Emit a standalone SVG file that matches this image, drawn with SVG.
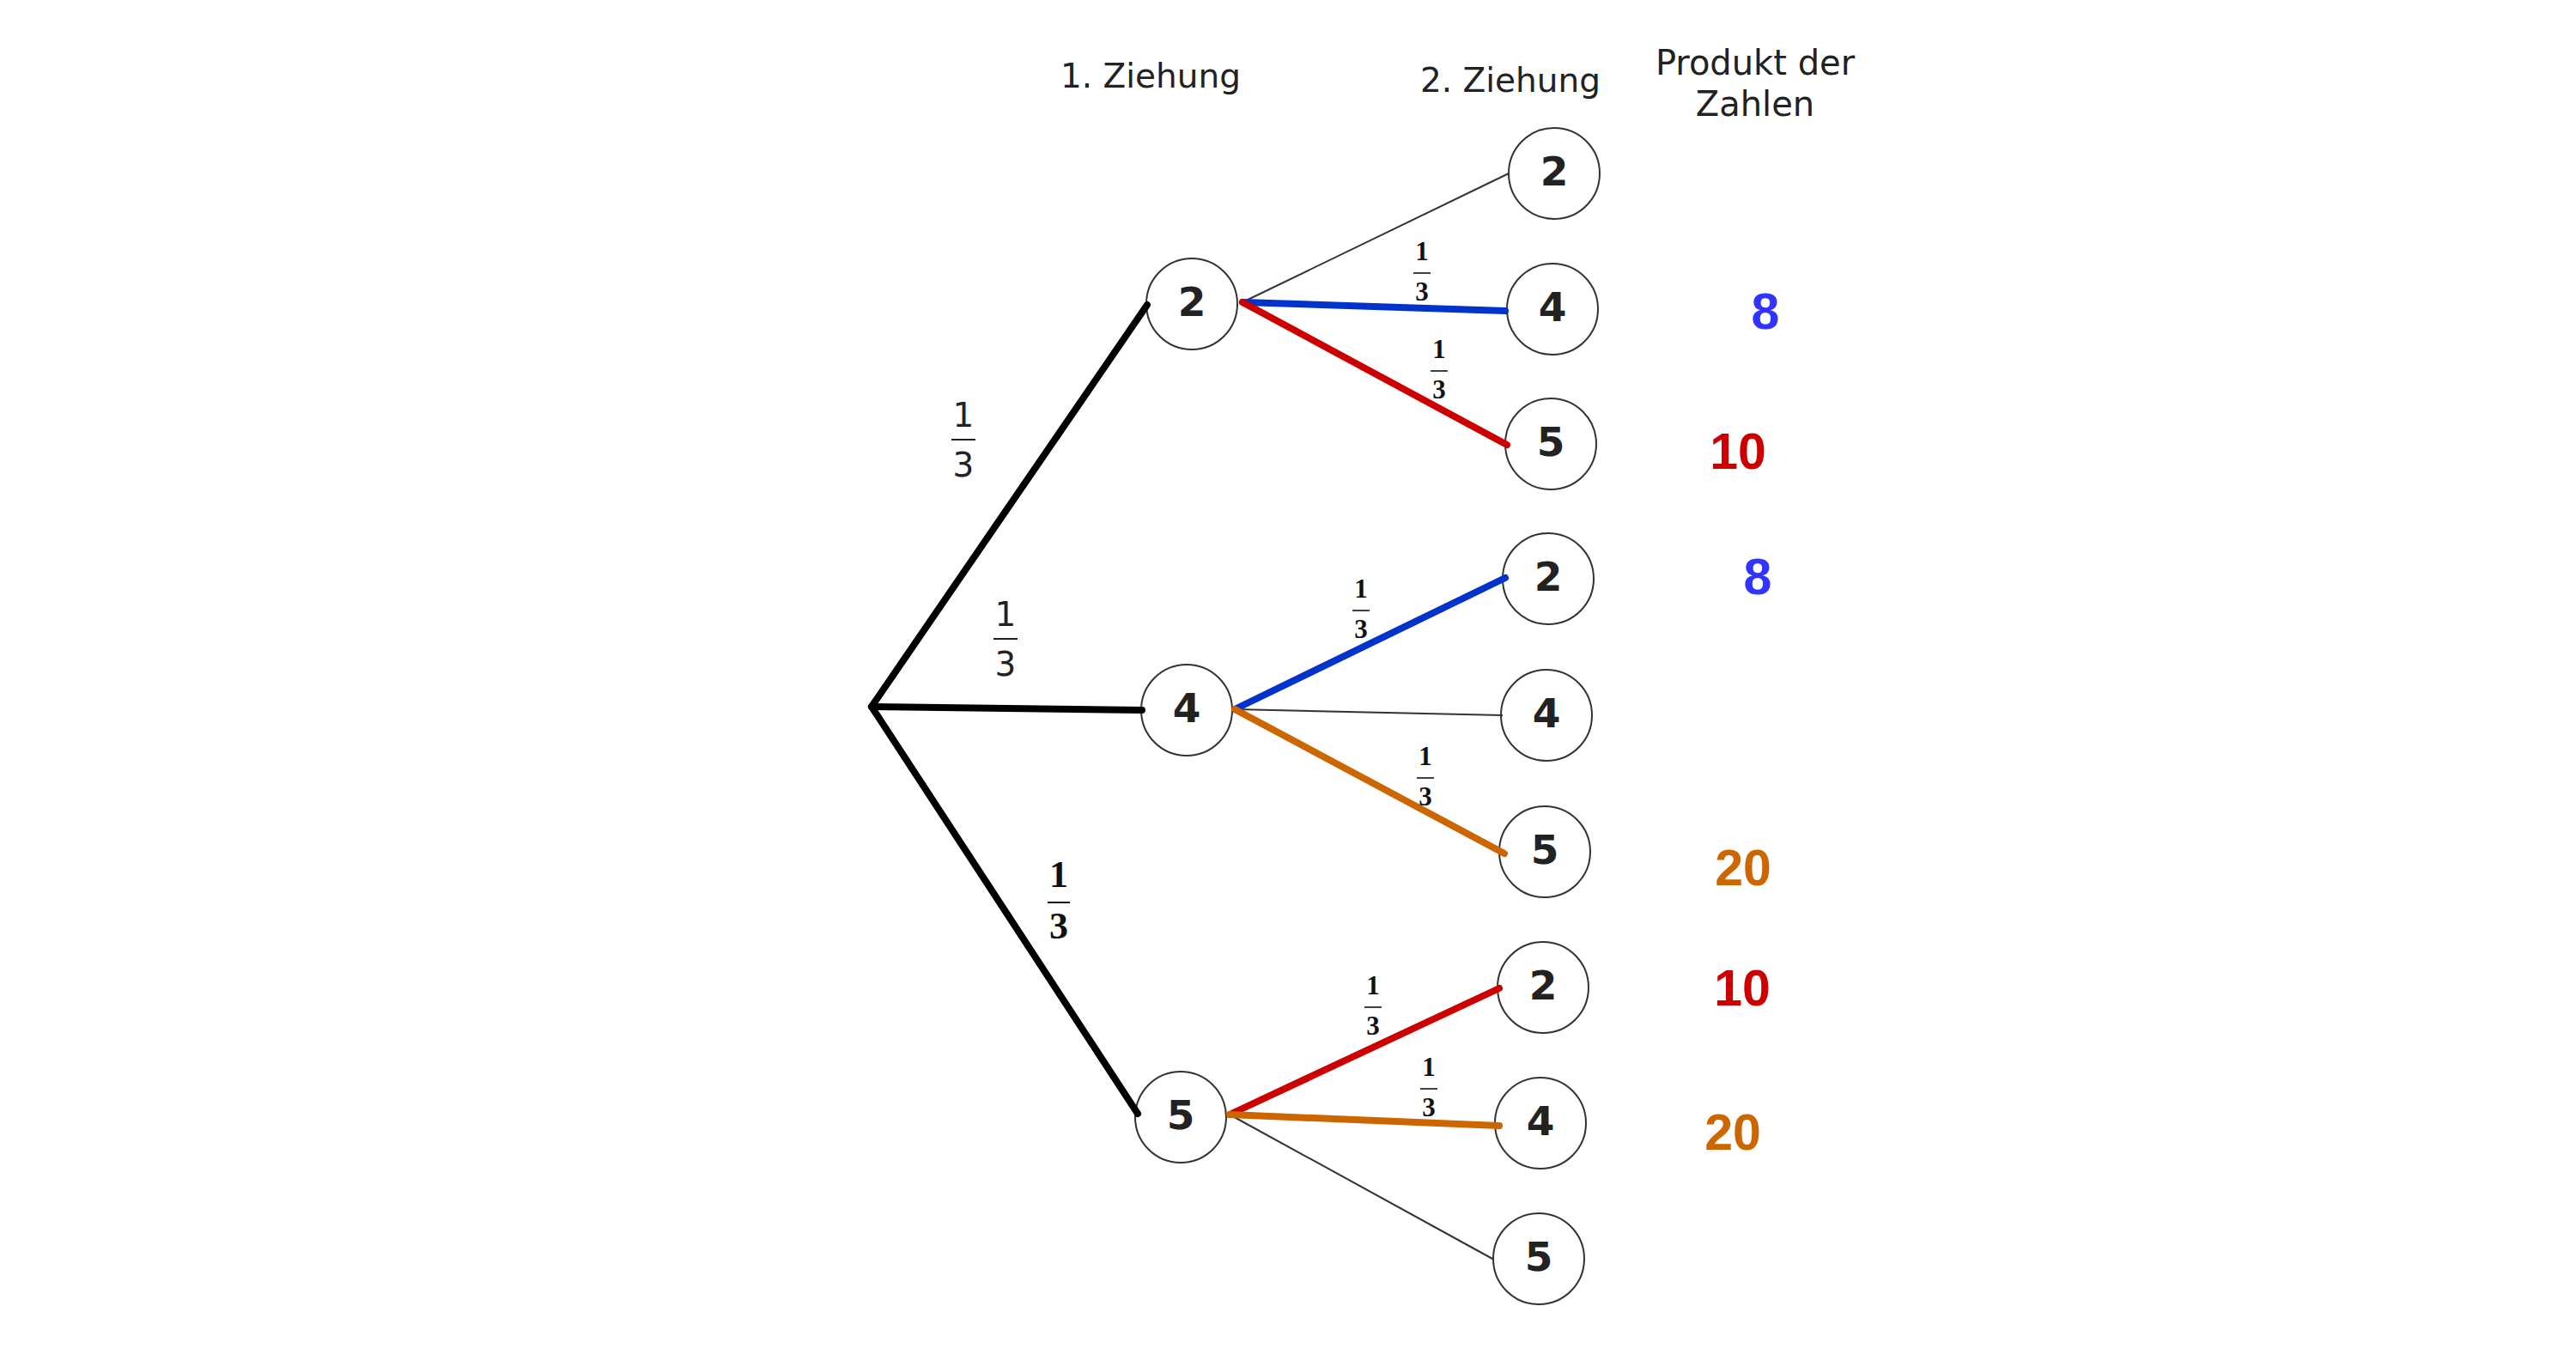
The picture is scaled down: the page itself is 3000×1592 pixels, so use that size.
<svg xmlns="http://www.w3.org/2000/svg" width="3000" height="1592" viewBox="0 0 3000 1592">
<style>
.node circle{fill:#fff;stroke:#333;stroke-width:2}
.node text{font-family:"DejaVu Sans",Verdana,sans-serif;font-weight:bold;font-size:47px;fill:#222;text-anchor:middle}
.hdr{font-family:"DejaVu Sans",Verdana,sans-serif;font-size:39px;fill:#222;text-anchor:middle}
.thick{stroke-width:8;stroke-linecap:round;fill:none}
.thin{stroke:#333;stroke-width:2;fill:none}
.k{stroke:#000}
.b{stroke:#0033CC}
.r{stroke:#CC0000}
.o{stroke:#CC6600}
.fs text{font-family:"Liberation Serif","Times New Roman",serif;font-weight:bold;font-size:31px;fill:#111;text-anchor:middle}
.fs line{stroke:#111;stroke-width:1.6}
.fl text{font-family:"DejaVu Sans",Verdana,sans-serif;font-size:39px;fill:#222;text-anchor:middle}
.fl line{stroke:#222;stroke-width:2}
.fb text{font-family:"Liberation Serif","Times New Roman",serif;font-weight:bold;font-size:44px;fill:#111;text-anchor:middle}
.fb line{stroke:#111;stroke-width:2}
.prod{font-family:"Liberation Sans",Arial,sans-serif;font-weight:bold;font-size:59px;text-anchor:middle}
</style>
<rect width="3000" height="1592" fill="#fff"/>

<g id="headers">
<text class="hdr" x="1340" y="102">1. Ziehung</text>
<text class="hdr" x="1759" y="107">2. Ziehung</text>
<text class="hdr" x="2044" y="87" style="font-size:40px">Produkt der</text>
<text class="hdr" x="2044" y="135" style="font-size:40px">Zahlen</text>
</g>

<g id="n1_2" class="node"><circle cx="1388" cy="354" r="53"/></g>
<g id="n1_4" class="node"><circle cx="1382" cy="827" r="53"/></g>
<g id="n1_5" class="node"><circle cx="1375" cy="1301" r="53"/></g>
<g id="n2_2a" class="node"><circle cx="1810" cy="202" r="53"/></g>
<g id="n2_4a" class="node"><circle cx="1808" cy="360" r="53"/></g>
<g id="n2_5a" class="node"><circle cx="1806" cy="517" r="53"/></g>
<g id="n2_2b" class="node"><circle cx="1803" cy="674" r="53"/></g>
<g id="n2_4b" class="node"><circle cx="1801" cy="833" r="53"/></g>
<g id="n2_5b" class="node"><circle cx="1799" cy="992" r="53"/></g>
<g id="n2_2c" class="node"><circle cx="1797" cy="1150" r="53"/></g>
<g id="n2_4c" class="node"><circle cx="1794" cy="1308" r="53"/></g>
<g id="n2_5c" class="node"><circle cx="1792" cy="1466" r="53"/></g>

<g id="connectors">
<line class="thick k" x1="1015" y1="823" x2="1336" y2="355"/>
<line class="thick k" x1="1015" y1="823" x2="1330" y2="827"/>
<line class="thick k" x1="1015" y1="823" x2="1325" y2="1297"/>

<line class="thin" x1="1447" y1="352" x2="1757" y2="202"/>
<line class="thick b" x1="1447" y1="352" x2="1753" y2="362"/>
<line class="thick r" x1="1447" y1="352" x2="1755" y2="518"/>

<line class="thin" x1="1438" y1="826" x2="1750" y2="833"/>
<line class="thick b" x1="1438" y1="826" x2="1753" y2="673"/>
<line class="thick o" x1="1438" y1="826" x2="1752" y2="994"/>

<line class="thin" x1="1432" y1="1298" x2="1740" y2="1467"/>
<line class="thick r" x1="1432" y1="1298" x2="1746" y2="1151"/>
<line class="thick o" x1="1432" y1="1298" x2="1746" y2="1311"/>
</g>

<g id="node-labels" class="node">
<text x="1388" y="368">2</text>
<text x="1382" y="841">4</text>
<text x="1375" y="1315">5</text>
<text x="1810" y="216">2</text>
<text x="1808" y="374">4</text>
<text x="1806" y="531">5</text>
<text x="1803" y="688">2</text>
<text x="1801" y="847">4</text>
<text x="1799" y="1006">5</text>
<text x="1797" y="1164">2</text>
<text x="1794" y="1322">4</text>
<text x="1792" y="1480">5</text>
</g>

<g id="edge-labels">
<g class="fl" transform="translate(1122,512)"><text x="0" y="-15">1</text><line x1="-14" y1="0" x2="14" y2="0"/><text x="0" y="43">3</text></g>
<g class="fl" transform="translate(1171,744)"><text x="0" y="-15">1</text><line x1="-14" y1="0" x2="14" y2="0"/><text x="0" y="43">3</text></g>
<g class="fb" transform="translate(1233,1051)"><text x="0" y="-18">1</text><line x1="-13" y1="0" x2="13" y2="0"/><text x="0" y="42">3</text></g>

<g class="fs" transform="translate(1656,318)"><text x="0" y="-15">1</text><line x1="-10" y1="0" x2="10" y2="0"/><text x="0" y="32">3</text></g>
<g class="fs" transform="translate(1676,432)"><text x="0" y="-15">1</text><line x1="-10" y1="0" x2="10" y2="0"/><text x="0" y="32">3</text></g>
<g class="fs" transform="translate(1585,711)"><text x="0" y="-15">1</text><line x1="-10" y1="0" x2="10" y2="0"/><text x="0" y="32">3</text></g>
<g class="fs" transform="translate(1660,906)"><text x="0" y="-15">1</text><line x1="-10" y1="0" x2="10" y2="0"/><text x="0" y="32">3</text></g>
<g class="fs" transform="translate(1599,1173)"><text x="0" y="-15">1</text><line x1="-10" y1="0" x2="10" y2="0"/><text x="0" y="32">3</text></g>
<g class="fs" transform="translate(1664,1268)"><text x="0" y="-15">1</text><line x1="-10" y1="0" x2="10" y2="0"/><text x="0" y="32">3</text></g>
</g>

<g id="products">
<text class="prod" x="2056" y="383" fill="#3333FF">8</text>
<text class="prod" x="2024" y="546" fill="#CC0000">10</text>
<text class="prod" x="2047" y="692" fill="#3333FF">8</text>
<text class="prod" x="2030" y="1031" fill="#CC6600">20</text>
<text class="prod" x="2029" y="1171" fill="#CC0000">10</text>
<text class="prod" x="2018" y="1339" fill="#CC6600">20</text>
</g>
</svg>
